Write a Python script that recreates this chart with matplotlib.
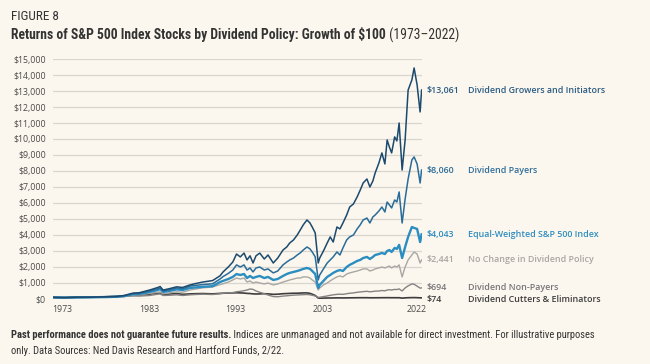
import matplotlib
matplotlib.use("Agg")
import matplotlib.pyplot as plt
import matplotlib.transforms as mtransforms
from matplotlib import font_manager
from matplotlib.ticker import FuncFormatter, MultipleLocator

# Data (growth of $100, picture time axis)
years = [1973.0, 1974.5, 1976.0, 1978.0, 1980.0, 1981.5, 1982.5, 1983.7, 1984.5, 1985.9,
         1987.0, 1987.3, 1987.7, 1988.5, 1989.5, 1990.3, 1991.3, 1992.0, 1993.0, 1994.3,
         1995.3, 1995.7, 1996.4, 1997.0, 1997.5, 1998.0, 1998.5, 1998.9, 1999.3, 1999.7,
         2000.1, 2000.6, 2001.2, 2001.7, 2002.4, 2003.0, 2003.7, 2004.2, 2004.6, 2005.1,
         2005.6, 2006.0, 2006.4, 2006.9, 2007.3, 2007.6, 2008.0, 2008.4, 2008.6, 2009.1,
         2009.6, 2010.0, 2010.4, 2010.9, 2011.3, 2011.7, 2012.2, 2012.6, 2013.1, 2013.6,
         2014.0, 2014.4, 2014.9, 2015.3, 2015.7, 2016.0, 2016.5, 2016.9, 2017.3, 2017.6,
         2017.9, 2018.2, 2018.6, 2018.9, 2019.2, 2019.6, 2020.0, 2020.4, 2020.9, 2021.2,
         2021.6, 2022.0, 2022.2]

growers = [100, 90, 110, 115, 140, 160, 220, 370, 390, 560,
           720, 780, 560, 640, 760, 720, 880, 960, 1060, 1150,
           1450, 1690, 2000, 2310, 2810, 2630, 2870, 2440, 2700, 2250,
           2700, 2870, 2500, 2750, 2250, 2560, 3060, 3250, 3500, 3690,
           4000, 4310, 4630, 4940, 4750, 4500, 4130, 2250, 2560, 3000,
           3500, 3880, 3560, 4500, 4380, 4750, 5250, 5750, 5940, 6380,
           6800, 7250, 7500, 7000, 7380, 7880, 8500, 9130, 8440, 9940,
           9500, 9130, 10130, 9880, 11000, 8060, 9940, 13060, 13690, 14440,
           13380, 11690, 13061]

payers = [100, 90, 105, 110, 130, 150, 200, 330, 350, 500,
          640, 690, 500, 570, 690, 640, 810, 850, 900, 950,
          1250, 1400, 1600, 1810, 2130, 2000, 2130, 1810, 1940, 1690,
          1940, 2000, 1810, 1880, 1630, 1750, 2130, 2310, 2440, 2560,
          2750, 2880, 3060, 3250, 3130, 2940, 2630, 1190, 1500, 1880,
          2250, 2440, 2630, 2940, 2750, 3190, 3690, 3880, 4000, 4380,
          4630, 4940, 5060, 4750, 5130, 5250, 5500, 5750, 5440, 6060,
          5880, 5690, 6190, 6060, 6690, 4750, 6250, 7500, 8690, 8880,
          8440, 7250, 8060]

equal_weight = [100, 85, 100, 105, 120, 140, 180, 300, 310, 440,
                560, 620, 440, 500, 600, 560, 690, 720, 760, 800,
                1060, 1130, 1250, 1380, 1560, 1500, 1560, 1310, 1440, 1310,
                1380, 1440, 1310, 1380, 1190, 1250, 1440, 1560, 1630, 1690,
                1750, 1810, 1880, 1940, 1880, 1750, 1560, 690, 880, 1130,
                1380, 1500, 1630, 1750, 1810, 1750, 2000, 2130, 2250, 2380,
                2440, 2560, 2630, 2500, 2630, 2750, 2810, 2880, 2810, 3000,
                3060, 2940, 3190, 3130, 3380, 2560, 3250, 3880, 4500, 4440,
                4380, 3560, 4043]

no_change = [100, 85, 95, 100, 110, 125, 150, 250, 260, 350,
             420, 440, 330, 380, 450, 420, 560, 620, 700, 750,
             900, 950, 1060, 1190, 1310, 1250, 1310, 1060, 1130, 1000,
             1060, 1000, 940, 1000, 880, 940, 1060, 1130, 1190, 1250,
             1310, 1310, 1380, 1380, 1310, 1190, 1060, 560, 690, 880,
             1000, 1130, 1250, 1380, 1440, 1380, 1560, 1630, 1690, 1750,
             1810, 1880, 1880, 1750, 1810, 1880, 1940, 2000, 1940, 2000,
             2060, 1940, 2060, 2000, 2130, 1380, 2000, 2440, 2750, 2940,
             2810, 2250, 2441]

non_payers = [100, 70, 90, 100, 130, 140, 160, 190, 180, 220,
              300, 310, 220, 230, 260, 220, 260, 280, 300, 280,
              330, 360, 380, 400, 450, 480, 520, 560, 625, 600,
              500, 420, 330, 250, 150, 140, 180, 200, 220, 240,
              250, 260, 270, 280, 260, 230, 190, 100, 110, 150,
              190, 230, 260, 290, 300, 290, 330, 360, 380, 420,
              440, 460, 480, 450, 470, 490, 500, 530, 510, 560,
              580, 560, 600, 590, 630, 500, 690, 820, 940, 920,
              800, 680, 694]

cutters = [100, 80, 100, 110, 140, 160, 190, 230, 240, 300,
           370, 380, 290, 310, 340, 290, 320, 330, 340, 320,
           350, 360, 370, 380, 390, 380, 370, 350, 340, 320,
           310, 320, 330, 320, 290, 300, 330, 340, 350, 360,
           360, 370, 380, 380, 350, 300, 220, 60, 50, 55,
           60, 65, 65, 70, 70, 65, 70, 72, 75, 78,
           80, 80, 80, 75, 75, 76, 78, 80, 80, 82,
           82, 78, 80, 78, 80, 55, 70, 80, 85, 88,
           82, 72, 74]

names = ["Dividend Growers and Initiators", "Dividend Payers", "Equal-Weighted S&P 500 Index",
         "No Change in Dividend Policy", "Dividend Non-Payers", "Dividend Cutters & Eliminators"]
end_labels = ["$13,061", "$8,060", "$4,043", "$2,441", "$694", "$74"]
tick_years = ["1973", "1983", "1993", "2003", "2022"]

# look
bg = "#fbf7ee"
line_colors = ["#1c4a6e", "#2a6c99", "#2b8dc0", "#a9a7a3", "#858382", "#3d3d3d"]
text_colors = ["#2a5b83", "#2f6d9a", "#2e8dbf", "#a8a6a2", "#77757a", "#3d3d3d"]
widths = [1.1, 1.1, 1.7, 1.0, 1.0, 1.2]


def pick(*fams):
    have = {f.name for f in font_manager.fontManager.ttflist}
    for f in fams:
        if f in have:
            return f
    return "DejaVu Sans"


narrow = pick("Liberation Sans Narrow", "Roboto Condensed", "Open Sans Condensed", "Liberation Sans")
body = pick("Open Sans", "Noto Sans", "DejaVu Sans")

fig = plt.figure(figsize=(6.5, 3.64), dpi=100, facecolor=bg)
ax = fig.add_axes([0.0815, 0.1786, 0.5677, 0.6593])
ax.set_facecolor(bg)

series = [growers, payers, equal_weight, no_change, non_payers, cutters]
order = [5, 4, 3, 2, 1, 0]
for i in order:
    ax.plot(years, series[i], color=line_colors[i], lw=widths[i], zorder=3 + (5 - i),
            solid_joinstyle="round")

ax.set_xlim(1973.0, 2022.25)
ax.set_ylim(0, 15000)
ax.yaxis.set_major_locator(MultipleLocator(1000))
ax.yaxis.set_major_formatter(FuncFormatter(lambda v, p: "${:,.0f}".format(v)))
ax.grid(axis="y", color="#d9d6cf", lw=0.9, zorder=0)
ax.set_axisbelow(True)
for s in ax.spines.values():
    s.set_visible(False)

# tick labels sit where the original puts them
tick_pos = [1974.2, 1985.8, 1997.3, 2009.0, 2021.6]
ax.set_xticks(tick_pos)
ax.set_xticklabels(tick_years)
ax.tick_params(axis="both", length=0, labelsize=6.3, labelcolor="#4a4a4a")
ax.tick_params(axis="x", pad=4)
ax.tick_params(axis="y", pad=5)
for lab in ax.get_xticklabels() + ax.get_yticklabels():
    lab.set_fontfamily(body)

# end labels
label_y = [13061, 8060, 4043, 2441, 694, -60]
trans = mtransforms.blended_transform_factory(fig.transFigure, ax.transData)
for i in range(6):
    ax.text(427 / 650, label_y[i], end_labels[i], transform=trans, color=text_colors[i],
            fontsize=6.4, fontweight="semibold", family=body, va="center", ha="left")
    ax.text(467.5 / 650, label_y[i], names[i], transform=trans, color=text_colors[i],
            fontsize=6.4, fontweight="semibold", family=body, va="center", ha="left")

# titles
fig.text(11 / 650, 1 - 17 / 364, "FIGURE 8", family=narrow, fontsize=9.5, color="#333333",
         va="center", ha="left")
renderer = fig.canvas.get_renderer()


def run_text(x, y, parts, size):
    for txt, weight in parts:
        t = fig.text(x, y, txt, family=narrow, fontsize=size, fontweight=weight,
                     color="#333333", va="center", ha="left")
        bb = t.get_window_extent(renderer)
        x = bb.x1 / fig.bbox.width


run_text(11 / 650, 1 - 35 / 364,
         [("Returns of S&P 500 Index Stocks by Dividend Policy: Growth of $100", "bold"),
          (" (1973\u20132022)", "normal")], 9.8)

run_text(11 / 650, 1 - 335 / 364,
         [("Past performance does not guarantee future results.", "bold"),
          (" Indices are unmanaged and not available for direct investment. For illustrative purposes",
           "normal")], 7.55)
run_text(11 / 650, 1 - 351 / 364,
         [("only. Data Sources: Ned Davis Research and Hartford Funds, 2/22.", "normal")], 7.55)

fig.savefig("out.png", dpi=100, facecolor=bg)
